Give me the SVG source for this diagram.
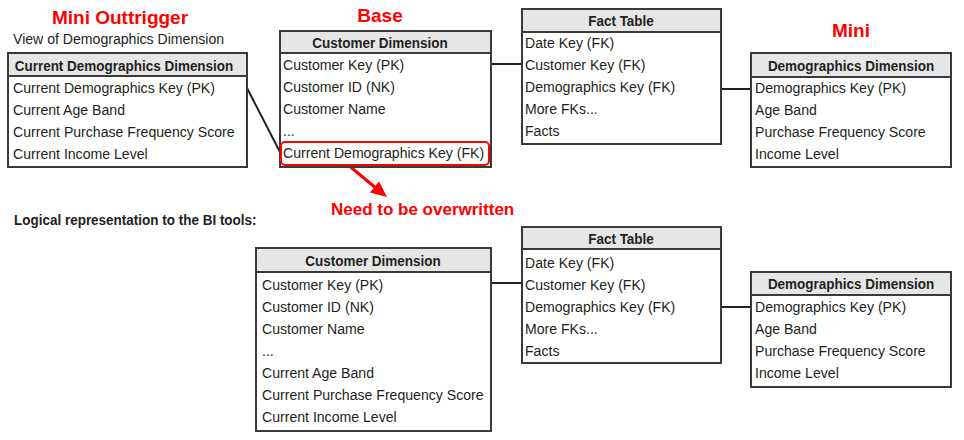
<svg xmlns="http://www.w3.org/2000/svg" width="964" height="440" viewBox="0 0 964 440">
<style>
.box{fill:#fff;stroke:#3a3a3a;stroke-width:2}
.hdr{fill:#e6e6e6;stroke:#3a3a3a;stroke-width:2}
.ht{font-family:"Liberation Sans",Arial,sans-serif;font-weight:bold;font-size:15.5px;fill:#231f20;text-anchor:middle}
.rt{font-family:"Liberation Sans",Arial,sans-serif;font-size:15.5px;fill:#231f20}
.red{font-family:"Liberation Sans",Arial,sans-serif;font-weight:bold;font-size:19px;fill:#f00;text-anchor:middle}
.con{stroke:#231f20;stroke-width:2;fill:none}
</style>
<rect width="964" height="440" fill="#fff"/>
<text class="red" x="120" y="24">Mini Outtrigger</text>
<text class="red" x="380" y="22">Base</text>
<text class="red" x="851" y="37">Mini</text>
<g transform="translate(13,0) scale(0.91,1)"><text class="rt" x="0" y="44">View of Demographics Dimension</text></g>
<g transform="translate(14,0) scale(0.87,1)"><text x="0" y="225" style="font-family:'Liberation Sans',Arial,sans-serif;font-weight:bold;font-size:15.5px;fill:#231f20">Logical representation to the BI tools:</text></g>
<text x="331" y="215" style="font-family:'Liberation Sans',Arial,sans-serif;font-weight:bold;font-size:17px;fill:#f00">Need to be overwritten</text>

<g id="connectors">
<line class="con" x1="247" y1="88" x2="281" y2="154"/>
<line class="con" x1="491" y1="64" x2="522" y2="64"/>
<line class="con" x1="721" y1="89" x2="751" y2="89"/>
<line class="con" x1="491" y1="283" x2="522" y2="283"/>
<line class="con" x1="721" y1="307" x2="751" y2="307"/>
<line x1="347" y1="164" x2="377" y2="189" stroke="#f00" stroke-width="3"/>
<polygon points="387,197 370,192.5 379,181.5" fill="#f00"/>
</g>

<g id="outtrigger">
<rect class="box" x="8" y="53" width="239" height="114"/>
<rect class="hdr" x="8" y="53" width="239" height="23"/>
<g transform="translate(124,0) scale(0.87,1)"><text class="ht" x="0" y="71">Current Demographics Dimension</text></g>
<g transform="translate(13,0) scale(0.91,1)">
<text class="rt" x="0" y="93">Current Demographics Key (PK)</text>
<text class="rt" x="0" y="115">Current Age Band</text>
<text class="rt" x="0" y="137">Current Purchase Frequency Score</text>
<text class="rt" x="0" y="159">Current Income Level</text>
</g>
</g>

<g id="customer-top">
<rect class="box" x="280" y="31" width="211" height="136"/>
<rect class="hdr" x="280" y="31" width="211" height="22"/>
<g transform="translate(380,0) scale(0.87,1)"><text class="ht" x="0" y="48">Customer Dimension</text></g>
<g transform="translate(283,0) scale(0.91,1)">
<text class="rt" x="0" y="70">Customer Key (PK)</text>
<text class="rt" x="0" y="92">Customer ID (NK)</text>
<text class="rt" x="0" y="114">Customer Name</text>
<text class="rt" x="0" y="136">...</text>
<text class="rt" x="0" y="158">Current Demographics Key (FK)</text>
</g>
<rect x="281" y="142" width="208" height="23" rx="4" fill="none" stroke="#f00" stroke-width="2"/>
</g>

<g id="fact-top">
<rect class="box" x="522" y="9" width="199" height="135"/>
<rect class="hdr" x="522" y="9" width="199" height="23"/>
<g transform="translate(621,0) scale(0.87,1)"><text class="ht" x="0" y="26">Fact Table</text></g>
<g transform="translate(525,0) scale(0.91,1)">
<text class="rt" x="0" y="48">Date Key (FK)</text>
<text class="rt" x="0" y="70">Customer Key (FK)</text>
<text class="rt" x="0" y="92">Demographics Key (FK)</text>
<text class="rt" x="0" y="114">More FKs...</text>
<text class="rt" x="0" y="136">Facts</text>
</g>
</g>

<g id="demographics-top">
<rect class="box" x="751" y="53" width="200" height="114"/>
<rect class="hdr" x="751" y="53" width="200" height="24"/>
<g transform="translate(851,0) scale(0.87,1)"><text class="ht" x="0" y="71">Demographics Dimension</text></g>
<g transform="translate(755,0) scale(0.91,1)">
<text class="rt" x="0" y="93">Demographics Key (PK)</text>
<text class="rt" x="0" y="115">Age Band</text>
<text class="rt" x="0" y="137">Purchase Frequency Score</text>
<text class="rt" x="0" y="159">Income Level</text>
</g>
</g>

<g id="customer-bottom">
<rect class="box" x="256" y="248" width="235" height="183"/>
<rect class="hdr" x="256" y="248" width="235" height="24"/>
<g transform="translate(373,0) scale(0.87,1)"><text class="ht" x="0" y="266">Customer Dimension</text></g>
<g transform="translate(262,0) scale(0.91,1)">
<text class="rt" x="0" y="290">Customer Key (PK)</text>
<text class="rt" x="0" y="312">Customer ID (NK)</text>
<text class="rt" x="0" y="334">Customer Name</text>
<text class="rt" x="0" y="356">...</text>
<text class="rt" x="0" y="378">Current Age Band</text>
<text class="rt" x="0" y="400">Current Purchase Frequency Score</text>
<text class="rt" x="0" y="422">Current Income Level</text>
</g>
</g>

<g id="fact-bottom">
<rect class="box" x="522" y="227" width="199" height="136"/>
<rect class="hdr" x="522" y="227" width="199" height="22"/>
<g transform="translate(621,0) scale(0.87,1)"><text class="ht" x="0" y="244">Fact Table</text></g>
<g transform="translate(525,0) scale(0.91,1)">
<text class="rt" x="0" y="268">Date Key (FK)</text>
<text class="rt" x="0" y="290">Customer Key (FK)</text>
<text class="rt" x="0" y="312">Demographics Key (FK)</text>
<text class="rt" x="0" y="334">More FKs...</text>
<text class="rt" x="0" y="356">Facts</text>
</g>
</g>

<g id="demographics-bottom">
<rect class="box" x="751" y="272" width="200" height="115"/>
<rect class="hdr" x="751" y="272" width="200" height="23"/>
<g transform="translate(851,0) scale(0.87,1)"><text class="ht" x="0" y="289">Demographics Dimension</text></g>
<g transform="translate(755,0) scale(0.91,1)">
<text class="rt" x="0" y="312">Demographics Key (PK)</text>
<text class="rt" x="0" y="334">Age Band</text>
<text class="rt" x="0" y="356">Purchase Frequency Score</text>
<text class="rt" x="0" y="378">Income Level</text>
</g>
</g>
</svg>
